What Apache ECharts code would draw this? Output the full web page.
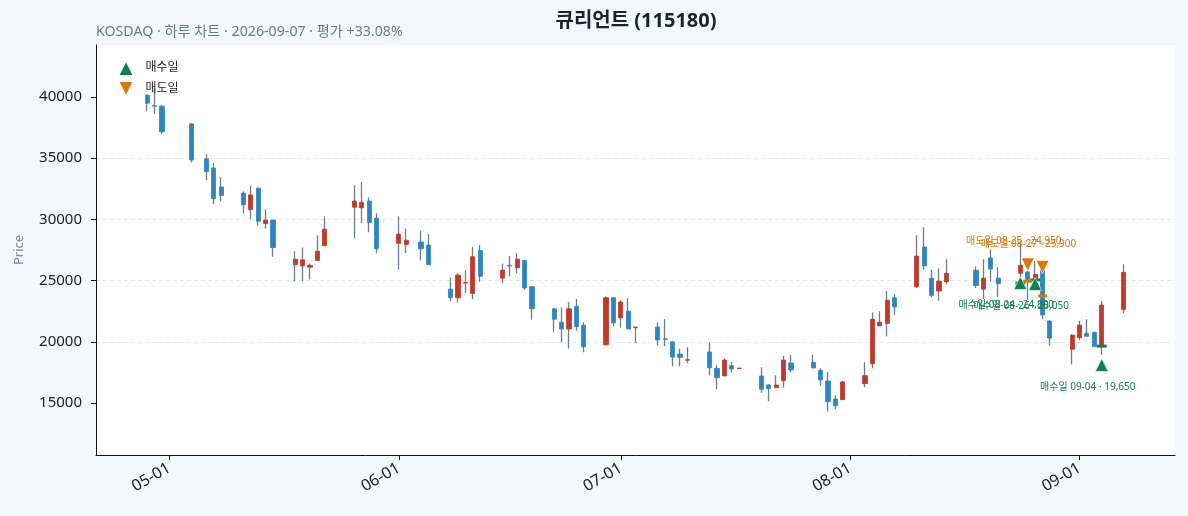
<!DOCTYPE html>
<html>
<head>
<meta charset="utf-8">
<title>큐리언트 (115180)</title>
<script src="https://cdn.jsdelivr.net/npm/echarts@6.0.0/dist/echarts.min.js"></script>
<style>
  html, body { margin: 0; padding: 0; background: #f5f8fb; }
  #main { width: 1188px; height: 516px; }
</style>
</head>
<body>
<div id="main"></div>
<script>
// 일봉 데이터
var dates = ['2026-04-28','2026-04-29','2026-04-30','2026-05-04','2026-05-06','2026-05-07','2026-05-08',
  '2026-05-11','2026-05-12','2026-05-13','2026-05-14','2026-05-15','2026-05-18','2026-05-19','2026-05-20',
  '2026-05-21','2026-05-22','2026-05-26','2026-05-27','2026-05-28','2026-05-29','2026-06-01','2026-06-02',
  '2026-06-04','2026-06-05','2026-06-08','2026-06-09','2026-06-10','2026-06-11','2026-06-12','2026-06-15',
  '2026-06-16','2026-06-17','2026-06-18','2026-06-19','2026-06-22','2026-06-23','2026-06-24','2026-06-25',
  '2026-06-26','2026-06-29','2026-06-30','2026-07-01','2026-07-02','2026-07-03','2026-07-06','2026-07-07',
  '2026-07-08','2026-07-09','2026-07-10','2026-07-13','2026-07-14','2026-07-15','2026-07-16','2026-07-17',
  '2026-07-20','2026-07-21','2026-07-22','2026-07-23','2026-07-24','2026-07-27','2026-07-28','2026-07-29',
  '2026-07-30','2026-07-31','2026-08-03','2026-08-04','2026-08-05','2026-08-06','2026-08-07','2026-08-10',
  '2026-08-11','2026-08-12','2026-08-13','2026-08-14','2026-08-18','2026-08-19','2026-08-20','2026-08-21',
  '2026-08-24','2026-08-25','2026-08-26','2026-08-27','2026-08-28','2026-08-31','2026-09-01','2026-09-02',
  '2026-09-03','2026-09-04','2026-09-07'];

var opens = [40150,39300,39250,37800,34950,34200,32650,32150,30800,32550,
  29650,29950,26300,26200,26100,26650,27850,31000,30950,31500,
  30100,28050,27950,28150,27900,24300,23600,24800,23950,27450,
  25200,26250,26050,26650,24500,22700,21600,21050,22900,21350,
  19750,23600,21950,22500,21150,21200,20250,20000,19000,18500,
  19170,17830,17210,18050,17820,17210,16470,16250,16820,18270,
  18330,17670,16800,15330,15270,16580,18210,21300,21500,23600,
  24500,27750,25200,24150,24900,25850,24300,26850,25200,25600,
  25700,25100,25900,21700,19390,20330,20690,20780,19650,22650];

var closes = [39500,39250,37150,34850,33900,31700,31950,31200,32000,29850,
  29950,27700,26750,26700,26250,27400,29200,31500,31400,29750,
  27600,28800,28300,27600,26300,23600,25450,24850,26950,25350,
  25850,26200,26750,24400,22700,21850,21050,22700,21250,19600,
  23600,21550,23250,21050,21200,20150,20200,18750,18730,18530,
  17880,17070,18510,17780,17850,16120,16170,16470,18510,17700,
  17860,16880,15110,14780,16720,17230,21850,21600,23400,22850,
  27000,26200,23800,24950,25600,24600,25200,25950,24750,26250,
  25100,25500,22200,20300,20550,21370,20450,19600,23000,25680];

var lows = [38850,38600,36950,34650,33200,31250,31500,30500,30000,29500,
  29250,26950,24950,24950,25100,26650,27850,28450,29700,28950,
  27250,25900,27250,26650,26300,23300,23200,24000,23500,24900,
  24800,25350,25600,24250,21800,20800,19950,19450,20900,19150,
  19750,21250,21150,21050,19900,19700,19650,18000,18000,18250,
  17260,16120,17210,17480,17820,15840,15140,16250,16250,17510,
  17860,16410,14320,14510,15270,16280,17840,21300,20450,22200,
  24400,25900,23650,23350,24700,24400,23500,24900,23650,24800,
  23450,24700,21850,19700,18160,20150,20450,19600,18920,22330];

var highs = [40200,40700,39350,37850,35350,34600,33450,32300,32750,32600,
  30800,29950,27400,27700,26400,28700,30250,32800,33050,31800,
  30500,30250,29250,29050,28800,25250,25600,25850,27750,27900,
  26400,27000,27250,26700,24550,22750,22800,23250,23500,21600,
  23700,23650,23400,23550,21250,21600,21850,20000,19450,19550,
  19960,18100,18650,18350,17850,17920,16550,17260,18860,18920,
  18920,17830,17530,15630,16800,18330,22400,22500,24150,23900,
  28700,29350,25900,26000,26750,26150,26750,27550,26100,28050,
  26300,26600,26300,21750,20600,21720,21840,20780,23330,26330];

// 매매 내역
var buyDates = ['2026-08-24','2026-08-26','2026-09-04'];
var buyPrices = [24800, 25050, 19650];
var buyMarks = [24800, 24720, 18100];
var sellDates = ['2026-08-25','2026-08-27'];
var sellPrices = [24950, 25900];
var sellMarks = [26320, 26110];
var sellTicks = [24950, 23750];

var monthTicks = ['2026-05-01','2026-06-01','2026-07-01','2026-08-01','2026-09-01'];
var priceTicks = [15000, 20000, 25000, 30000, 35000, 40000];

var UP = '#c0392b', DOWN = '#2e86c1', WICK = '#6f7c8a';
var BUY = '#11804c', SELL = '#d9770b';
var FONT = '"Noto Sans", "Noto Sans CJK KR", sans-serif';

function ts(s) {
  var p = s.split('-');
  return new Date(+p[0], +p[1] - 1, +p[2]).getTime();
}
var DAY = 864e5;
var may1 = ts('2026-05-01');

var wickData = [], bodyData = [];
for (var i = 0; i < dates.length; i++) {
  var t = ts(dates[i]);
  wickData.push([t, opens[i], closes[i], lows[i], highs[i]]);
  bodyData.push([t, opens[i], closes[i], Math.min(opens[i], closes[i]), Math.max(opens[i], closes[i])]);
}

function fmt(n) { return n.toLocaleString('en-US'); }

var chart = echarts.init(document.getElementById('main'));
chart.setOption({
  animation: false,
  backgroundColor: '#f5f8fb',
  textStyle: { fontFamily: FONT },
  graphic: [
    { type: 'text', x: 636, y: 21, style: { text: '큐리언트 (115180)', align: 'center', verticalAlign: 'middle',
      fontFamily: FONT, fontSize: 20, fontWeight: 'bold', fill: '#1c2330' } },
    { type: 'text', x: 96, y: 32, style: { text: 'KOSDAQ · 하루 차트 · 2026-09-07 · 평가 +33.08%', align: 'left',
      verticalAlign: 'middle', fontFamily: FONT, fontSize: 14.2, fill: '#6b7a8f' } }
  ],
  legend: {
    orient: 'vertical', left: 112, top: 54, itemWidth: 17, itemHeight: 16, itemGap: 3,
    textStyle: { fontSize: 12, color: '#222', fontFamily: FONT, padding: [0, 0, 0, 6] },
    data: [
      { name: '매수일', icon: 'path://M5,0 L10,10 L0,10 Z' },
      { name: '매도일', icon: 'path://M0,0 L10,0 L5,10 Z' }
    ]
  },
  grid: { left: 96, right: 13, top: 45, bottom: 61, show: true, backgroundColor: '#fff', borderWidth: 0 },
  xAxis: {
    type: 'value',
    min: may1 - 9.92 * DAY,
    max: may1 + 135.9 * DAY,
    axisLine: { lineStyle: { color: '#111', width: 1 } },
    axisTick: { length: 5, lineStyle: { color: '#111' }, customValues: monthTicks.map(ts) },
    axisLabel: {
      customValues: monthTicks.map(ts), rotate: 30, fontSize: 16, color: '#222', margin: 12,
      formatter: function (v) {
        var d = new Date(v);
        return ('0' + (d.getMonth() + 1)).slice(-2) + '-' + ('0' + d.getDate()).slice(-2);
      }
    },
    splitLine: { show: false }
  },
  yAxis: {
    type: 'value',
    min: 10752, max: 44249,
    name: 'Price', nameLocation: 'middle', nameGap: 70,
    nameTextStyle: { color: '#7b8794', fontSize: 13 },
    axisLine: { show: true, lineStyle: { color: '#111', width: 1 } },
    axisTick: { show: true, length: 5, lineStyle: { color: '#111' }, customValues: priceTicks },
    axisLabel: { customValues: priceTicks, fontSize: 15, color: '#222', margin: 14,
      formatter: function (v) { return String(v); } },
    splitLine: { show: true, showMinLine: false, showMaxLine: false,
      lineStyle: { color: '#e6e6e6', type: [4, 3], width: 1 } }
  },
  series: [
    {
      name: 'wick', type: 'candlestick', data: wickData, encode: { x: 0, y: [1, 2, 3, 4] },
      barWidth: 0.2, z: 2, silent: true,
      itemStyle: { color: WICK, color0: WICK, borderColor: WICK, borderColor0: WICK, borderWidth: 1.3 }
    },
    {
      name: 'body', type: 'candlestick', data: bodyData, encode: { x: 0, y: [1, 2, 3, 4] },
      barWidth: 4.6, z: 3, silent: true,
      itemStyle: { color: UP, color0: DOWN, borderColor: UP, borderColor0: DOWN, borderWidth: 0.8 }
    },
    {
      name: 'buyTick', type: 'scatter', z: 4, symbol: 'rect', symbolSize: [10, 3], silent: true,
      itemStyle: { color: BUY, opacity: 1 },
      data: buyDates.map(function (d, i) { return [ts(d), buyPrices[i]]; })
    },
    {
      name: 'sellTick', type: 'scatter', z: 4, symbol: 'rect', symbolSize: [9, 3], silent: true,
      itemStyle: { color: SELL, opacity: 1 },
      data: sellDates.map(function (d, i) { return [ts(d), sellTicks[i]]; })
    },
    {
      name: '매수일', type: 'scatter', z: 5, symbol: 'path://M5,0 L10,10 L0,10 Z', symbolSize: [13, 13],
      itemStyle: { color: BUY, opacity: 1, borderColor: '#fff', borderWidth: 0.6 },
      label: {
        show: true, position: 'inside', offset: [-14, 22], fontSize: 10, color: BUY, fontFamily: FONT,
        formatter: function (p) { return '매수일 ' + buyDates[p.dataIndex].slice(5) + ' · ' + fmt(buyPrices[p.dataIndex]); }
      },
      data: buyDates.map(function (d, i) { return [ts(d), buyMarks[i]]; })
    },
    {
      name: '매도일', type: 'scatter', z: 5, symbol: 'path://M0,0 L10,0 L5,10 Z', symbolSize: [13, 13],
      itemStyle: { color: SELL, opacity: 1, borderColor: '#fff', borderWidth: 0.6 },
      label: {
        show: true, position: 'inside', offset: [-14, -23], fontSize: 10, color: SELL, fontFamily: FONT,
        formatter: function (p) { return '매도일 ' + sellDates[p.dataIndex].slice(5) + ' · ' + fmt(sellPrices[p.dataIndex]); }
      },
      data: sellDates.map(function (d, i) { return [ts(d), sellMarks[i]]; })
    }
  ]
});
</script>
</body>
</html>
